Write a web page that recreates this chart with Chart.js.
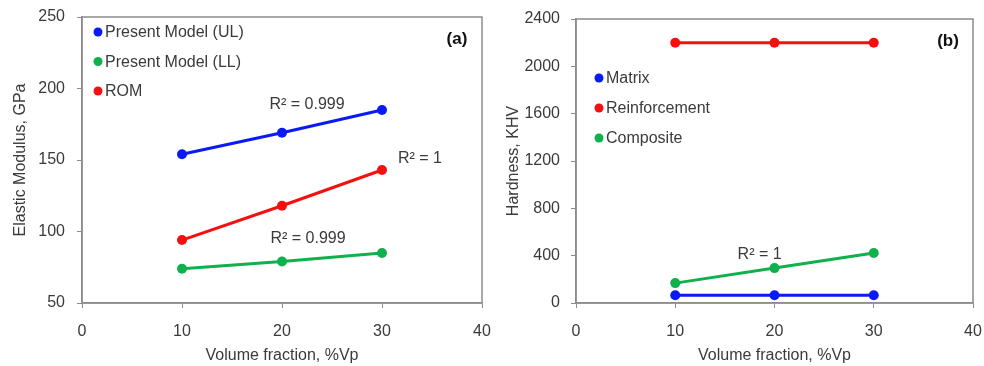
<!DOCTYPE html>
<html>
<head>
<meta charset="utf-8">
<script src="https://cdn.jsdelivr.net/npm/chart.js@4"></script>
<style>
  html, body { margin: 0; padding: 0; background: #fff; }
  #wrap { position: relative; width: 984px; height: 366px; }
  canvas { position: absolute; top: 0; }
  #c-a { left: 0; }
  #c-b { left: 492px; }
</style>
</head>
<body>
<div id="wrap">
  <canvas id="c-a" width="492" height="366"></canvas>
  <canvas id="c-b" width="492" height="366"></canvas>
</div>
<script>
// Volume fraction (x) values shared by both panels
const hacimOrani = [10, 20, 30];

// (a) Elastic modulus, GPa
const ulModul = [154, 169, 185];
const llModul = [74, 79, 85];
const romModul = [94, 118, 143];
const modulEtiketleri = ["Present Model (UL)", "Present Model (LL)", "ROM"];

// (b) Hardness, KHV
const matrisSertlik = [65, 65, 65];
const takviyeSertlik = [2200, 2200, 2200];
const kompozitSertlik = [168, 295, 422];
const sertlikEtiketleri = ["Matrix", "Reinforcement", "Composite"];

// R² notes: [x, y, text]
const notlarA = [[22.5, 189, "R² = 0.999"], [33.8, 151, "R² = 1"], [22.6, 95, "R² = 0.999"]];
const notlarB = [[18.5, 405, "R² = 1"]];

const MAVI = "#0a1af5", YESIL = "#10b04c", KIRMIZI = "#f51010";
const YAZI = "#3a3a3a", CERCEVE = "#8c8c8c";
const FONT = "'Liberation Sans', Arial, sans-serif";

function seri(etiket, xs, ys, renk) {
  return {
    label: etiket,
    data: xs.map((x, i) => ({ x: x, y: ys[i] })),
    borderColor: renk,
    backgroundColor: renk,
    borderWidth: 3,
    pointRadius: 5,
    pointHoverRadius: 5,
    pointBorderWidth: 0,
    tension: 0,
  };
}

// frame, legend inside plot, R² notes and panel letter
const ekler = {
  id: "ekler",
  afterDraw(chart) {
    const o = chart.options.plugins.ekler;
    const ctx = chart.ctx;
    const a = chart.chartArea;
    const sx = chart.scales.x, sy = chart.scales.y;
    ctx.save();
    ctx.strokeStyle = CERCEVE;
    ctx.lineWidth = 1.5;
    ctx.strokeRect(a.left, a.top, a.right - a.left, a.bottom - a.top);

    ctx.font = "16px " + FONT;
    ctx.textBaseline = "middle";
    ctx.textAlign = "left";
    chart.data.datasets.forEach((ds, i) => {
      const y = o.lejantY + i * o.lejantAralik;
      ctx.fillStyle = ds.borderColor;
      ctx.beginPath();
      ctx.arc(o.lejantX, y, 4.5, 0, Math.PI * 2);
      ctx.fill();
      ctx.fillStyle = YAZI;
      ctx.fillText(ds.label, o.lejantX + 7, y + 1);
    });

    ctx.textAlign = "center";
    o.notlar.forEach(n => {
      ctx.fillText(n[2], sx.getPixelForValue(n[0]), sy.getPixelForValue(n[1]));
    });

    ctx.font = "bold 17px " + FONT;
    ctx.fillStyle = "#111";
    ctx.fillText(o.harf, a.right - 25, a.top + 22);
    ctx.restore();
  }
};

function grafik(id, setler, yMin, yMax, yAdim, yBaslik, yGenislik, sagBosluk, ustBosluk, yBaslikPad, yTickPad, lejant) {
  return new Chart(document.getElementById(id), {
    type: "line",
    data: { datasets: setler },
    plugins: [ekler],
    options: {
      responsive: false,
      animation: false,
      layout: { padding: { left: 0, right: sagBosluk, top: ustBosluk, bottom: 0 } },
      plugins: {
        legend: { display: false },
        tooltip: { enabled: false },
        ekler: lejant,
      },
      scales: {
        x: {
          type: "linear",
          min: 0, max: 40,
          afterFit: s => { s.height = 63; s.paddingLeft = 0; s.paddingRight = 0; },
          ticks: { stepSize: 10, color: YAZI, font: { family: FONT, size: 16 }, padding: 14, maxRotation: 0 },
          grid: { drawOnChartArea: false, tickLength: 5, color: CERCEVE },
          border: { color: CERCEVE, width: 1.5 },
          title: { display: true, text: "Volume fraction, %Vp", color: YAZI, font: { family: FONT, size: 16 }, padding: { top: 0, bottom: 1 } },
        },
        y: {
          min: yMin, max: yMax,
          afterFit: s => { s.width = yGenislik; s.paddingTop = 0; s.paddingBottom = 0; },
          ticks: { stepSize: yAdim, color: YAZI, font: { family: FONT, size: 16 }, padding: yTickPad, callback: v => String(v) },
          grid: { drawOnChartArea: false, tickLength: 5, color: CERCEVE },
          border: { color: CERCEVE, width: 1.5 },
          title: { display: true, text: yBaslik, color: YAZI, font: { family: FONT, size: 16 }, padding: { top: yBaslikPad, bottom: 0 } },
        },
      },
    },
  });
}

grafik("c-a", [
  seri(modulEtiketleri[0], hacimOrani, ulModul, MAVI),
  seri(modulEtiketleri[1], hacimOrani, llModul, YESIL),
  seri(modulEtiketleri[2], hacimOrani, romModul, KIRMIZI),
], 50, 250, 50, "Elastic Modulus, GPa", 82, 10, 17, 11, 12,
  { lejantX: 98, lejantY: 32, lejantAralik: 29.5, notlar: notlarA, harf: "(a)" });

grafik("c-b", [
  seri(sertlikEtiketleri[0], hacimOrani, matrisSertlik, MAVI),
  seri(sertlikEtiketleri[1], hacimOrani, takviyeSertlik, KIRMIZI),
  seri(sertlikEtiketleri[2], hacimOrani, kompozitSertlik, YESIL),
], 0, 2400, 400, "Hardness, KHV", 84, 11, 19, 12, 11,
  { lejantX: 107, lejantY: 78, lejantAralik: 30, notlar: notlarB, harf: "(b)" });
</script>
</body>
</html>
